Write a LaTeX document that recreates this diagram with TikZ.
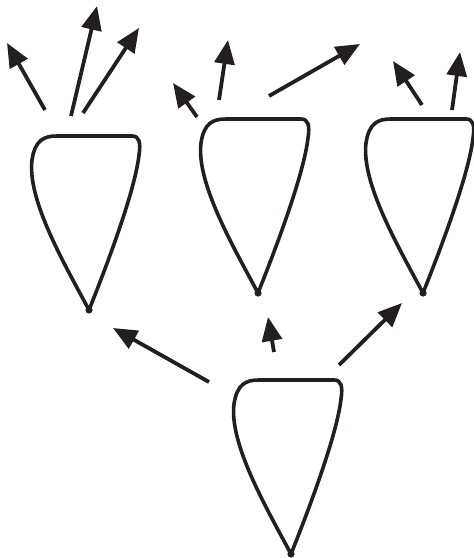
\documentclass[tikz,border=0pt]{standalone}
\usetikzlibrary{arrows.meta}
\definecolor{ink}{RGB}{35,31,32}
\tikzset{
  outline/.style={draw=ink,line width=3.6bp,line join=round},
  ray/.style={draw=ink,line width=3.8bp,-{Triangle[length=24bp,width=20bp]}},
  bulb/.pic={
    \draw[outline] (0,0) .. controls (-24,-45) and (-62,-110) .. (-57,-150)
      .. controls (-54,-170) and (-45,-174) .. (-32,-174) -- (43,-174)
      .. controls (50,-174) and (52,-168) .. (50,-155)
      .. controls (46,-120) and (20,-50) .. cycle;
    \fill[ink] (0,0) circle (3.6bp);
  }
}
\begin{document}
\begin{tikzpicture}[x=1bp,y=-1bp]
\useasboundingbox (0,0) rectangle (474,558);
% shapes
\pic (left) at (89,310) {bulb};
\pic (mid) at (258,293) {bulb};
\pic (right) at (423,293) {bulb};
\pic (bottom) at (291,554) {bulb};
% arrow end points
\coordinate (a1s) at (45,110);  \coordinate (a1e) at (7,43);
\coordinate (a2s) at (71,116);  \coordinate (a2e) at (97,6);
\coordinate (a3s) at (83,113);  \coordinate (a3e) at (139,28);
\coordinate (b1s) at (197,117); \coordinate (b1e) at (173,83);
\coordinate (b2s) at (219,100); \coordinate (b2e) at (228,40);
\coordinate (b3s) at (269,96);  \coordinate (b3e) at (360,44);
\coordinate (c1s) at (422,105); \coordinate (c1e) at (393,61);
\coordinate (c2s) at (452,110); \coordinate (c2e) at (460,52);
\coordinate (d1s) at (209,382); \coordinate (d1e) at (113,328);
\coordinate (d2s) at (274,352); \coordinate (d2e) at (268,317);
\coordinate (d3s) at (339,365); \coordinate (d3e) at (402,303);
% arrows
\foreach \n in {a1,a2,a3,b1,b2,b3,c1,c2,d1,d2,d3}
  \draw[ray] (\n s) -- (\n e);
\end{tikzpicture}
\end{document}
